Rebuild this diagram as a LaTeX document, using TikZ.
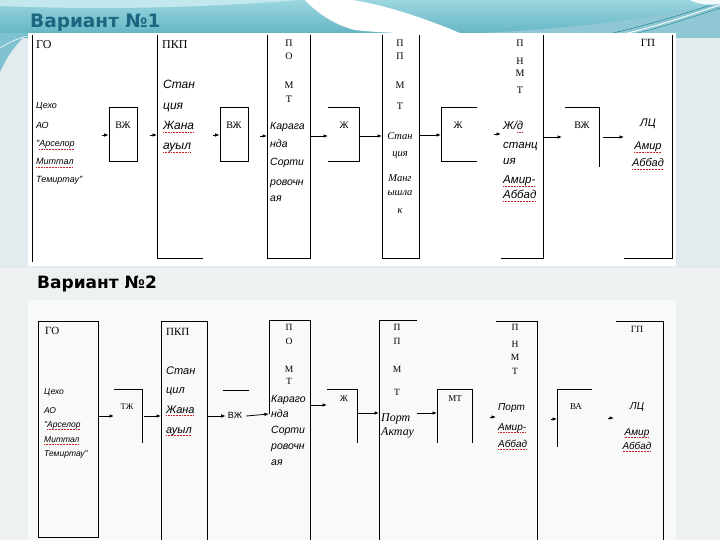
\documentclass[tikz,border=0pt]{standalone}
\usepackage{fontspec}
\setmainfont{Liberation Serif}
\newfontfamily\sitf{Liberation Sans}
\newfontfamily\ttlf{DejaVu Sans}
\usetikzlibrary{arrows.meta}
\definecolor{bgc}{HTML}{E2EBEE}
\definecolor{lowc}{HTML}{EEF1F1}
\definecolor{tealA}{HTML}{9AD6DF}
\definecolor{tealB}{HTML}{5FB1C1}
\definecolor{tealC}{HTML}{2F8AA0}
\definecolor{ttlc}{HTML}{1B6781}
\definecolor{splc}{HTML}{D02020}
\newsavebox\splbox
\newcommand\spl[1]{\sbox\splbox{#1}\rlap{\color{splc}\raisebox{-2.6pt}[0pt][0pt]{\hbox to \wd\splbox{\xleaders\hbox{\rule{0.8pt}{0.55pt}\kern0.7pt}\hfill}}}\usebox\splbox}
\tikzset{
  ln/.style={line width=0.8pt, black},
  arr/.style={line width=0.8pt, black, -{Latex[length=4.5pt,width=3.6pt]}},
  bx/.style={draw, line width=0.8pt, inner sep=0pt},
  sr/.style={inner sep=0pt, text height=6pt, text depth=2pt, font=\fontsize{#1}{#1}\selectfont},
  ss/.style={inner sep=0pt, text height=6pt, text depth=2pt, font=\sitf\itshape\fontsize{#1}{#1}\selectfont},
  si/.style={inner sep=0pt, text height=6pt, text depth=2pt, font=\itshape\fontsize{#1}{#1}\selectfont},
}
\begin{document}
\begin{tikzpicture}[x=1pt,y=-1pt]
\useasboundingbox (0,0) rectangle (720,540);
% ---------- slide background ----------
\fill[bgc] (0,0) rectangle (720,540);
\fill[lowc] (0,268) rectangle (720,540);
\shade[top color=tealA, bottom color=tealB] (0,0) rectangle (720,38);
\fill[tealA!60!white] (0,0) -- (300,0) .. controls (200,8) and (100,10) .. (0,6) -- cycle;
\fill[white] (305,0) -- (352,0) .. controls (385,5) and (425,18) .. (462,34)
   .. controls (420,34) and (380,33) .. (355,30) .. controls (335,25) and (318,14) .. (305,0) -- cycle;
\fill[tealB!70!white] (460,34) .. controls (560,30) and (650,20) .. (720,2) -- (720,38) -- (460,38) -- cycle;
\draw[tealC, line width=0.6pt] (600,36) .. controls (650,25) and (690,12) .. (720,2);
\draw[tealC, line width=0.5pt] (625,36) .. controls (665,27) and (695,16) .. (720,8);
\draw[white, line width=0.8pt] (615,36) .. controls (660,26) and (692,14) .. (720,5);
\fill[white!85!tealA] (690,0) -- (720,0) -- (720,4) .. controls (705,6) and (695,3) .. (690,0);
\fill[tealB!80!white] (0,33) -- (28,33) .. controls (15,45) and (6,58) .. (0,72) -- cycle;
\draw[white, line width=0.6pt] (0,48) .. controls (10,42) and (18,38) .. (28,36);
% white panels
\fill[white] (28,33) rectangle (676,266);
\fill[white!60!lowc] (28,300) rectangle (676,540);
% titles
\node[inner sep=0pt, anchor=base west, text=ttlc, font=\ttlf\bfseries\fontsize{18.5}{18.5}\selectfont] (title1) at (30,28) {Вариант №1};
\node[inner sep=0pt, anchor=base west, text=black, font=\ttlf\bfseries\fontsize{17}{17}\selectfont] (title2) at (37,288) {Вариант №2};

% ================= VARIANT 1 =================
% ГО
\coordinate (g1a) at (32,35); \coordinate (g1b) at (32,262);
\draw[ln] (g1a) -- (g1b);
\node[sr=12, anchor=west] (g1t) at (36,47) {ГО};
\foreach \t/\yy [count=\i] in {Цехо/107, АО/127, {"\spl{Арселор}}/145, {\spl{Миттал}}/163, {Темиртау"}/181}
  \node[ss=9, anchor=west] (g1l\i) at (36,\yy) {\t};
% ВЖ 1
\node[bx, minimum width=28pt, minimum height=54pt] (vb1) at (123,134) {};
\node[sr=10] (vb1t) at (123,127) {ВЖ};
\coordinate (a1s) at (102,135);
\draw[arr] (a1s) -- (a1s -| vb1.west);
% ПКП
\coordinate (p1a) at (157,35); \coordinate (p1b) at (157,258); \coordinate (p1c) at (203,258);
\draw[ln] (p1a) -- (p1b) -- (p1c);
\node[sr=12, anchor=west] (p1t) at (162,47) {ПКП};
\coordinate (a2s) at (150,135);
\draw[arr] (a2s) -- (a2s -| p1a);
\foreach \t/\yy [count=\i] in {Стан/87, ция/108, {\spl{Жана}}/128, {\spl{ауыл}}/148}
  \node[ss=12, anchor=west] (p1l\i) at (163,\yy) {\t};
% ВЖ 2
\node[bx, minimum width=28pt, minimum height=54pt] (vb2) at (234,134) {};
\node[sr=10] (vb2t) at (234,127) {ВЖ};
\coordinate (a3s) at (213,135);
\draw[arr] (a3s) -- (a3s -| vb2.west);
% ПОМТ
\coordinate (m1a) at (267,35); \coordinate (m1b) at (267,258);
\coordinate (m1c) at (310,258); \coordinate (m1d) at (310,35);
\draw[ln] (m1a) -- (m1b) -- (m1c) -- (m1d);
\foreach \t/\yy [count=\i] in {П/45, О/58, М/87, Т/101}
  \node[sr=10] (m1k\i) at (289,\yy) {\t};
\foreach \t/\yy [count=\i] in {Карага/128, нда/146, Сорти/164, ровочн/184, ая/200}
  \node[ss=10.5, anchor=west] (m1l\i) at (270,\yy) {\t};
\coordinate (a4s) at (260,136);
\draw[arr] (a4s) -- (a4s -| m1a);
% Ж 1
\coordinate (z1a) at (328,107); \coordinate (z1b) at (359,107);
\coordinate (z1c) at (359,161); \coordinate (z1d) at (328,161);
\draw[ln] (z1a) -- (z1b) -- (z1c) -- (z1d);
\node[sr=10] (z1t) at (344,127) {Ж};
\coordinate (a5s) at (310,136);
\draw[arr] (a5s) -- (a5s -| z1a);
% ПМТ
\coordinate (n1a) at (382,35); \coordinate (n1b) at (382,258);
\coordinate (n1c) at (419,258); \coordinate (n1d) at (419,35);
\draw[ln] (n1a) -- (n1b) -- (n1c) -- (n1d);
\foreach \t/\yy [count=\i] in {П/45, П/58, М/87, Т/108}
  \node[sr=10] (n1k\i) at (400,\yy) {\t};
\foreach \t/\yy [count=\i] in {Стан/138, ция/155, Манг/180, ышла/194, к/212}
  \node[si=10.5] (n1l\i) at (400,\yy) {\t};
\coordinate (a6s) at (359,136);
\draw[arr] (a6s) -- (a6s -| n1a);
% Ж 2
\coordinate (z2a) at (477,107); \coordinate (z2b) at (441,107);
\coordinate (z2c) at (441,161); \coordinate (z2d) at (477,161);
\draw[ln] (z2a) -- (z2b) -- (z2c) -- (z2d);
\node[sr=10] (z2t) at (458,127) {Ж};
\coordinate (a7s) at (419,135);
\draw[arr] (a7s) -- (a7s -| z2b);
% ПНМТ
\coordinate (h1a) at (501,258); \coordinate (h1b) at (543,258); \coordinate (h1c) at (543,35);
\draw[ln] (h1a) -- (h1b) -- (h1c);
\foreach \t/\yy [count=\i] in {П/45, Н/63, М/75, Т/92}
  \node[sr=10] (h1k\i) at (520,\yy) {\t};
\foreach \t/\yy [count=\i] in {{Ж/\spl{д}}/128, станц/147, ия/163, {\spl{Амир-}}/182, {\spl{Аббад}}/197}
  \node[ss=11.5, anchor=west] (h1l\i) at (503,\yy) {\t};
\coordinate (a8s) at (494,134); \coordinate (a8e) at (501,134);
\draw[arr] (a8s) -- (a8e);
% ВЖ 3
\coordinate (v3a) at (565,107); \coordinate (v3b) at (599,107); \coordinate (v3c) at (599,167);
\draw[ln] (v3a) -- (v3b) -- (v3c);
\node[sr=10] (v3t) at (582,127) {ВЖ};
\coordinate (a9s) at (543,137); \coordinate (a9e) at (562,137);
\draw[arr] (a9s) -- (a9e);
% ГП
\coordinate (q1a) at (624,258); \coordinate (q1b) at (672,258); \coordinate (q1c) at (672,35);
\draw[ln] (q1a) -- (q1b) -- (q1c);
\node[sr=11] (q1t) at (648,45) {ГП};
\foreach \t/\yy [count=\i] in {ЛЦ/125, {\spl{Амир}}/148, {\spl{Аббад}}/165}
  \node[ss=11] (q1l\i) at (648,\yy) {\t};
\coordinate (a10s) at (603,137); \coordinate (a10e) at (624,137);
\draw[arr] (a10s) -- (a10e);

% ================= VARIANT 2 =================
% ГО
\node[bx, minimum width=60pt, minimum height=216pt] (g2) at (68,429) {};
\node[sr=11, anchor=west] (g2t) at (45,332) {ГО};
\foreach \t/\yy [count=\i] in {Цехо/392, АО/411, {"\spl{Арселор}}/425, {\spl{Миттал}}/440, {Темиртау"}/454}
  \node[ss=8.5, anchor=west] (g2l\i) at (44,\yy) {\t};
% ТЖ
\coordinate (t2a) at (114,389); \coordinate (t2b) at (142,389); \coordinate (t2c) at (142,443);
\draw[ln] (t2a) -- (t2b) -- (t2c);
\node[sr=8.5] (t2t) at (127,407) {ТЖ};
\coordinate (b1e) at (114,416);
\draw[arr] (b1e -| g2.east) -- (b1e);
% ПКП
\coordinate (p2a) at (161,540); \coordinate (p2b) at (161,321);
\coordinate (p2c) at (207,321); \coordinate (p2d) at (207,540);
\draw[ln] (p2a) -- (p2b) -- (p2c) -- (p2d);
\node[sr=11, anchor=west] (p2t) at (166,333) {ПКП};
\foreach \t/\yy [count=\i] in {Стан/372, цил/391, {\spl{Жана}}/411, {\spl{ауыл}}/431}
  \node[ss=11, anchor=west] (p2l\i) at (166,\yy) {\t};
\coordinate (b2s) at (144,416);
\draw[arr] (b2s) -- (b2s -| p2a);
% ВЖ label between ПКП and ПОМТ
\coordinate (w2a) at (223,390); \coordinate (w2b) at (249,390);
\draw[ln] (w2a) -- (w2b);
\node[inner sep=0pt, text height=6pt, text depth=2pt, font=\sitf\fontsize{9}{9}\selectfont] (w2t) at (235,416) {ВЖ};
\coordinate (b3s) at (207,416);
\draw[arr] (b3s) -- ([xshift=-2pt]w2t.west);
% ПОМТ
\coordinate (m2a) at (269,414); \coordinate (m2b) at (269,320);
\coordinate (m2c) at (310,320); \coordinate (m2d) at (310,540);
\draw[ln] (m2a) -- (m2b) -- (m2c) -- (m2d);
\draw[arr] ([xshift=4pt]w2t.east) -- (m2a);
\foreach \t/\yy [count=\i] in {П/328, О/342, М/370, Т/382}
  \node[sr=9.5] (m2k\i) at (289,\yy) {\t};
\foreach \t/\yy [count=\i] in {Караго/400, нда/415, Сорти/431, ровочн/447, ая/463}
  \node[ss=10.5, anchor=west] (m2l\i) at (271,\yy) {\t};
% Ж
\coordinate (z3a) at (327,389); \coordinate (z3b) at (357,389); \coordinate (z3c) at (357,443);
\draw[ln] (z3a) -- (z3b) -- (z3c);
\node[sr=9] (z3t) at (344,399) {Ж};
\coordinate (b4s) at (310,405);
\draw[arr] (b4s) -- (b4s -| z3a);
% ПМТ
\coordinate (n2a) at (379,540); \coordinate (n2b) at (379,320); \coordinate (n2c) at (417,320);
\draw[ln] (n2a) -- (n2b) -- (n2c);
\foreach \t/\yy [count=\i] in {П/328, П/342, М/370, Т/393}
  \node[sr=9.5] (n2k\i) at (397,\yy) {\t};
\foreach \t/\yy [count=\i] in {Порт/419, Актау/433}
  \node[si=12, anchor=west] (n2l\i) at (381,\yy) {\t};
\coordinate (b5s) at (357,413);
\draw[arr] (b5s) -- (b5s -| n2a);
% МТ
\coordinate (r2a) at (437,443); \coordinate (r2b) at (437,389);
\coordinate (r2c) at (472,389); \coordinate (r2d) at (472,443);
\draw[ln] (r2a) -- (r2b) -- (r2c) -- (r2d);
\node[sr=9] (r2t) at (455,399) {МТ};
\coordinate (b6s) at (417,413);
\draw[arr] (b6s) -- (b6s -| r2a);
% ПНМТ
\coordinate (h2a) at (496,321); \coordinate (h2b) at (537,321); \coordinate (h2c) at (537,540);
\draw[ln] (h2a) -- (h2b) -- (h2c);
\foreach \t/\yy [count=\i] in {П/328, Н/345, М/358, Т/372}
  \node[sr=9.5] (h2k\i) at (515,\yy) {\t};
\foreach \t/\yy [count=\i] in {Порт/408, {\spl{Амир-}}/428, {\spl{Аббад}}/445}
  \node[ss=10, anchor=west] (h2l\i) at (498,\yy) {\t};
\coordinate (b7s) at (490,417); \coordinate (b7e) at (496,417);
\draw[arr] (b7s) -- (b7e);
% ВА
\coordinate (e2a) at (557,447); \coordinate (e2b) at (557,389); \coordinate (e2c) at (592,389);
\draw[ln] (e2a) -- (e2b) -- (e2c);
\node[sr=9] (e2t) at (576,407) {ВА};
\coordinate (b8s) at (551,419);
\draw[arr] (b8s) -- (b8s -| e2a);
% ГП
\coordinate (q2a) at (616,321); \coordinate (q2b) at (663,321); \coordinate (q2c) at (663,540);
\draw[ln] (q2a) -- (q2b) -- (q2c);
\node[sr=9.5] (q2t) at (637,330) {ГП};
\foreach \t/\yy [count=\i] in {ЛЦ/407, {\spl{Амир}}/433, {\spl{Аббад}}/447}
  \node[ss=10] (q2l\i) at (637,\yy) {\t};
\coordinate (b9s) at (608,418); \coordinate (b9e) at (614,418);
\draw[arr] (b9s) -- (b9e);
\end{tikzpicture}
\end{document}
